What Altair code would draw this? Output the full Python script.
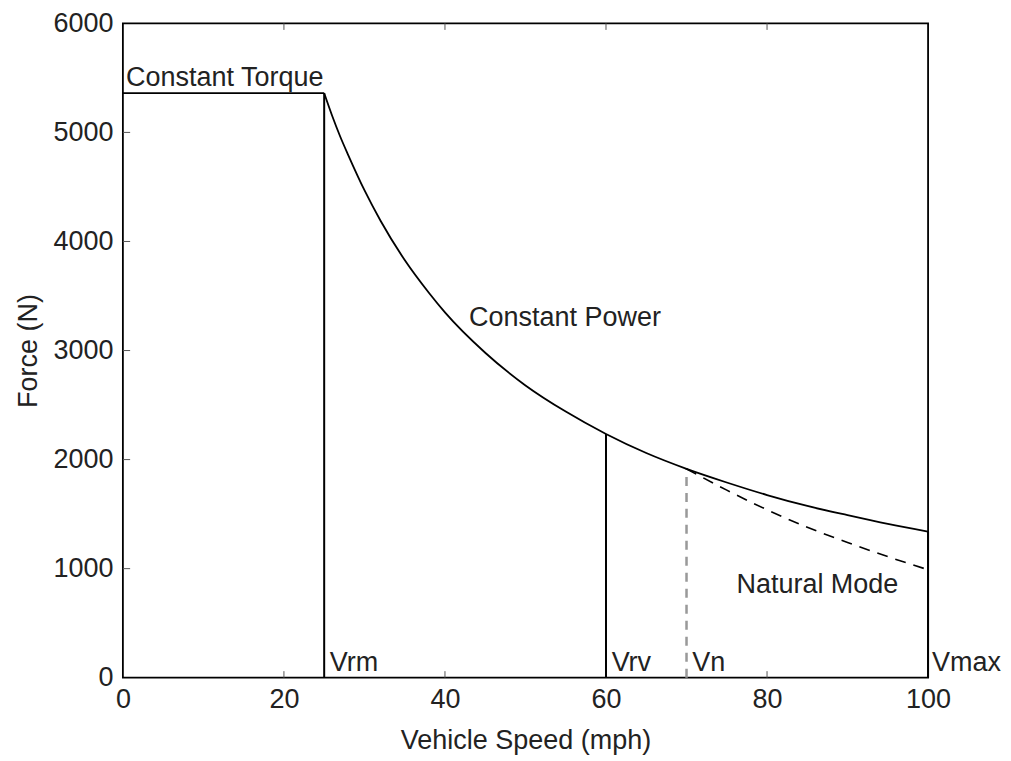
import altair as alt
import pandas as pd

# Constant torque segment (speed mph, force N)
torque_speed = [0, 25]
torque_force = [5360, 5360]

# Constant power curve
power_speed = [25, 26, 27, 28, 30, 32, 35, 38, 40, 45, 50, 55, 60, 65, 70, 75, 80, 85, 90, 95, 100]
power_force = [5360, 5150, 4960, 4790, 4470, 4190, 3830, 3530, 3350, 2980, 2680, 2440, 2235, 2060,
               1915, 1790, 1675, 1575, 1490, 1410, 1340]

# Natural mode (dashed)
natural_speed = [70, 75, 80, 85, 90, 95, 100]
natural_force = [1915, 1720, 1540, 1380, 1240, 1110, 990]

# Vertical markers
marker_speed = [25, 60, 100]
marker_top = [5360, 2235, 1340]
vn_speed = [70]
vn_top = [1915]

# Speed labels
speed_label_text = ["Vrm", "Vrv", "Vn", "Vmax"]
speed_label_x = [25.7, 60.7, 70.7, 100.5]

# Curve labels
curve_label_text = ["Constant Power", "Natural Mode"]
curve_label_x = [43.0, 76.2]
curve_label_y = [3300, 850]

x_ticks = [0, 20, 40, 60, 80, 100]
y_ticks = [0, 1000, 2000, 3000, 4000, 5000, 6000]

FONT = "Liberation Sans"
FS = 27

torque_df = pd.DataFrame({"speed": torque_speed, "force": torque_force})
power_df = pd.DataFrame({"speed": power_speed, "force": power_force})
nat_df = pd.DataFrame({"speed": natural_speed, "force": natural_force})
mark_df = pd.DataFrame({"speed": marker_speed, "top": marker_top, "base": [0] * len(marker_speed)})
vn_df = pd.DataFrame({"speed": vn_speed, "top": vn_top, "base": [0] * len(vn_speed)})
lab_df = pd.DataFrame({"speed": speed_label_x, "force": [60] * len(speed_label_x), "t": speed_label_text})
curve_df = pd.DataFrame({"speed": curve_label_x, "force": curve_label_y, "t": curve_label_text})
torque_lab_df = pd.DataFrame({"speed": [0.4], "force": [5360], "t": ["Constant Torque"]})

# inward ticks
tick_b = pd.DataFrame({"speed": x_ticks[1:-1], "y1": [0] * 4, "y2": [60] * 4})
tick_t = pd.DataFrame({"speed": x_ticks[1:-1], "y1": [6000] * 4, "y2": [5940] * 4})
tick_l = pd.DataFrame({"force": y_ticks[1:-1], "x1": [0] * 5, "x2": [0.9] * 5})

xs = alt.Scale(domain=[0, 100], nice=False, zero=False)
ys = alt.Scale(domain=[0, 6000], nice=False)

x_axis = alt.Axis(values=x_ticks, title="Vehicle Speed (mph)", grid=False, domain=False,
                  tickSize=0, labelPadding=9, titlePadding=15, format="d", labelFlush=False,
                  labelFont=FONT, titleFont=FONT, labelFontSize=FS, titleFontSize=FS,
                  labelColor="#222222", titleColor="#222222", titleFontWeight="normal")
y_axis = alt.Axis(values=y_ticks, title="Force (N)", grid=False, domain=False,
                  tickSize=0, labelPadding=10, titlePadding=10, format="d", labelFlush=False,
                  labelFont=FONT, titleFont=FONT, labelFontSize=FS, titleFontSize=FS,
                  labelColor="#222222", titleColor="#222222", titleFontWeight="normal")

torque_line = alt.Chart(torque_df).mark_line(color="black", strokeWidth=1.8).encode(
    x=alt.X("speed:Q", scale=xs, axis=x_axis),
    y=alt.Y("force:Q", scale=ys, axis=y_axis),
    order="speed:Q",
)

power_line = alt.Chart(power_df).mark_line(color="black", strokeWidth=1.8, interpolate="monotone").encode(
    x=alt.X("speed:Q", scale=xs), y=alt.Y("force:Q", scale=ys), order="speed:Q")

nat_line = alt.Chart(nat_df).mark_line(color="black", strokeWidth=1.6, strokeDash=[11, 8],
                                       interpolate="monotone").encode(
    x=alt.X("speed:Q", scale=xs), y=alt.Y("force:Q", scale=ys), order="speed:Q")

rules = alt.Chart(mark_df).mark_rule(color="black", strokeWidth=2).encode(
    x=alt.X("speed:Q", scale=xs), y=alt.Y("base:Q", scale=ys), y2="top:Q")

vn_rule = alt.Chart(vn_df).mark_rule(color="#999999", strokeWidth=2.5, strokeDash=[9, 7]).encode(
    x=alt.X("speed:Q", scale=xs), y=alt.Y("base:Q", scale=ys), y2="top:Q")

speed_labels = alt.Chart(lab_df).mark_text(align="left", baseline="alphabetic", font=FONT,
                                          fontSize=FS, color="#222222").encode(
    x=alt.X("speed:Q", scale=xs), y=alt.Y("force:Q", scale=ys), text="t:N")

curve_labels = alt.Chart(curve_df).mark_text(align="left", baseline="middle", font=FONT,
                                            fontSize=FS, color="#222222").encode(
    x=alt.X("speed:Q", scale=xs), y=alt.Y("force:Q", scale=ys), text="t:N")

torque_label = alt.Chart(torque_lab_df).mark_text(align="left", baseline="bottom", font=FONT,
                                                 fontSize=FS, color="#222222", dy=-1).encode(
    x=alt.X("speed:Q", scale=xs), y=alt.Y("force:Q", scale=ys), text="t:N")

tb = alt.Chart(tick_b).mark_rule(color="#555555", strokeWidth=1).encode(
    x=alt.X("speed:Q", scale=xs), y=alt.Y("y1:Q", scale=ys), y2="y2:Q")
tt = alt.Chart(tick_t).mark_rule(color="#555555", strokeWidth=1).encode(
    x=alt.X("speed:Q", scale=xs), y=alt.Y("y1:Q", scale=ys), y2="y2:Q")
tl = alt.Chart(tick_l).mark_rule(color="#555555", strokeWidth=1).encode(
    y=alt.Y("force:Q", scale=ys), x=alt.X("x1:Q", scale=xs), x2="x2:Q")

chart = alt.layer(torque_line, tb, tt, tl, rules, vn_rule, power_line, nat_line,
                  speed_labels, curve_labels, torque_label).properties(
    width=806, height=655,
    autosize=alt.AutoSizeParams(type="none"),
    padding={"left": 115, "top": 15, "right": 75, "bottom": 80},
    background="white",
).configure_view(
    stroke="black", strokeWidth=1.8
)

chart.save("out.html", embed_options={"renderer": "svg", "actions": False})
